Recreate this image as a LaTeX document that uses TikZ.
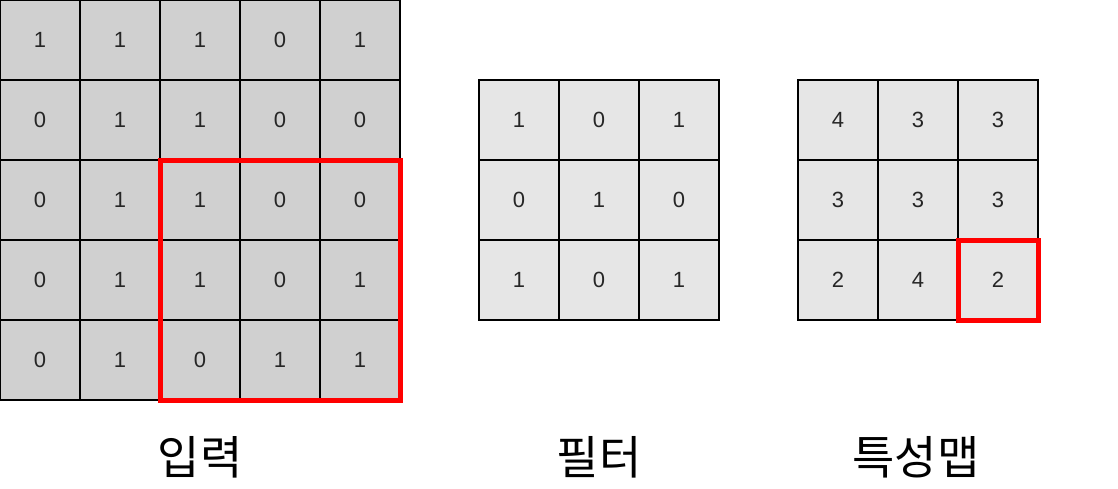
\documentclass[tikz,border=0pt]{standalone}
\usepackage{fontspec}
\setmainfont{Liberation Sans}
\newfontfamily\kr{Noto Sans CJK KR}
\definecolor{ingray}{HTML}{D0D0D0}
\definecolor{lgray}{HTML}{E6E6E6}
\definecolor{redbox}{HTML}{FF0000}
\begin{document}
\begin{tikzpicture}[x=1pt,y=-1pt,
  cellbase/.style={draw=black,line width=2pt,minimum size=80pt,inner sep=0pt,outer sep=0pt,text=black!85,font=\fontsize{22}{26}\selectfont},
  incell/.style={cellbase,fill=ingray},
  lcell/.style={cellbase,fill=lgray},
  hl/.style={draw=redbox,line width=5pt},
  lbl/.style={font=\kr\fontsize{46}{50}\selectfont,inner sep=0pt,anchor=center}]
\useasboundingbox (0,0) rectangle (1118,488);
% input 5x5
\foreach \r/\row in {1/{1,1,1,0,1},2/{0,1,1,0,0},3/{0,1,1,0,0},4/{0,1,1,0,1},5/{0,1,0,1,1}}{
  \foreach \v [count=\c] in \row {
    \node[incell] (in-\r-\c) at ({80*\c-40},{80*\r-40}) {\v};
  }
}
% filter 3x3
\foreach \r/\row in {1/{1,0,1},2/{0,1,0},3/{1,0,1}}{
  \foreach \v [count=\c] in \row {
    \node[lcell] (fi-\r-\c) at ({479+80*\c-40},{80+80*\r-40}) {\v};
  }
}
% feature map 3x3
\foreach \r/\row in {1/{4,3,3},2/{3,3,3},3/{2,4,2}}{
  \foreach \v [count=\c] in \row {
    \node[lcell] (fm-\r-\c) at ({798+80*\c-40},{80+80*\r-40}) {\v};
  }
}
\draw[hl] (in-3-3.north west) rectangle (in-5-5.south east);
\draw[hl] (fm-3-3.north west) rectangle (fm-3-3.south east);
\node[lbl] (lin) at (200,457) {입력};
\node[lbl] (lfi) at (599,457) {필터};
\node[lbl] (lfm) at (916,457) {특성맵};
\end{tikzpicture}
\end{document}
